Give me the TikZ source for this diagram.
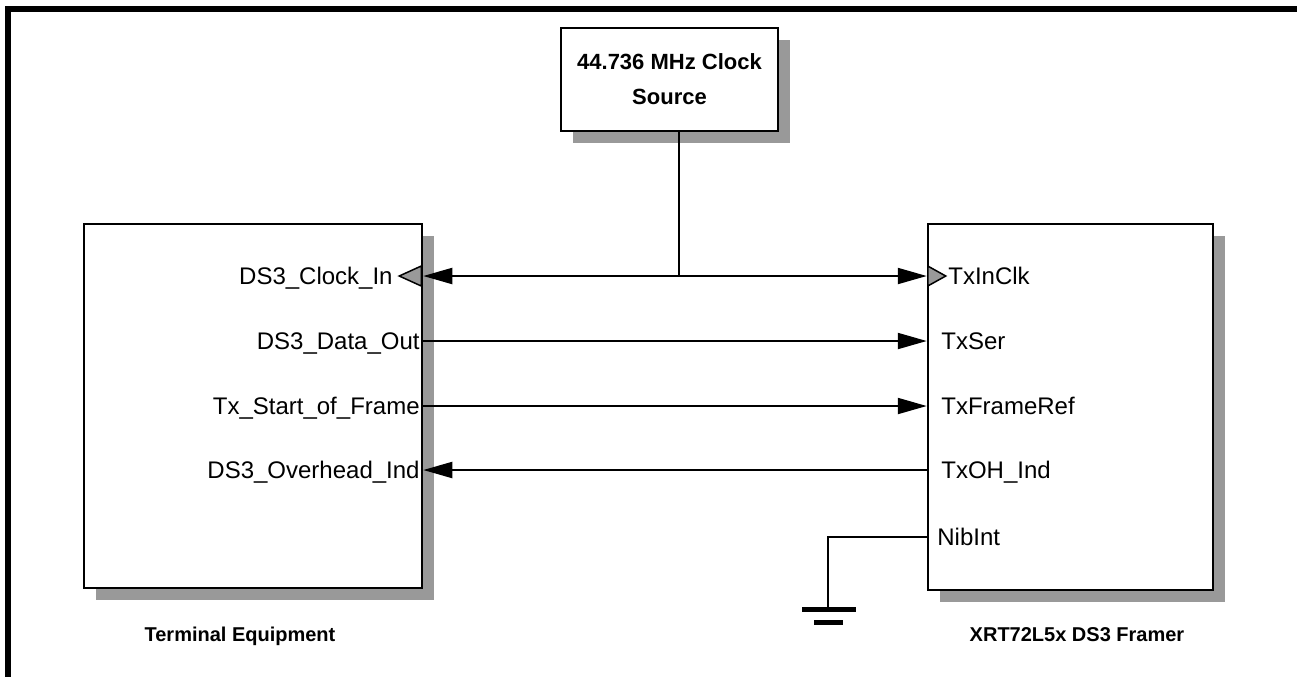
\documentclass[tikz,border=0pt]{standalone}
\usepackage{fontspec}
\setmainfont{Liberation Sans}
\usetikzlibrary{arrows.meta,shadows}
\tikzset{
  pix/.style={x=0.5pt,y=-0.5pt,>={Triangle[length=14.5pt,width=8pt]}},
  unit/.style={draw,line width=1.25pt,fill=white,inner sep=0pt,
    drop shadow={shadow xshift=6pt,shadow yshift=-6pt,fill=black!40,opacity=1}},
  pin/.style={font=\fontsize{12}{14}\selectfont,inner sep=0pt},
  caption/.style={font=\bfseries\fontsize{10}{12}\selectfont,inner sep=0pt},
  wire/.style={line width=1pt},
  clkin/.style={draw=black,fill=black!40,line width=0.75pt,line join=miter}
}

\begin{document}
\begin{tikzpicture}[pix]
  \useasboundingbox (0,0) rectangle (1297,677);
  \draw[line width=3pt] (1297,9) -- (8,9) -- (8,677);

  \node[unit,minimum width=108.5pt,minimum height=51.5pt,align=center,
    font=\bfseries\fontsize{11}{17.5}\selectfont] (clk) at (669.5,79.5) {44.736 MHz Clock\\Source};
  \node[unit,minimum width=169pt,minimum height=182pt] (term) at (253,406) {};
  \node[unit,minimum width=142.5pt,minimum height=183pt] (framer) at (1070.5,407) {};

  \coordinate (rclk) at (0,276);
  \coordinate (rdata) at (0,341);
  \coordinate (rsof) at (0,406);
  \coordinate (roh) at (0,470);
  \coordinate (rnib) at (0,537);
  \coordinate (tap) at (679,276);
  \coordinate (gnd) at (828,609);

  \draw[wire,<->] (term.east |- rclk) -- (framer.west |- rclk);
  \draw[wire] (tap) -- (tap |- clk.south);
  \draw[wire,->] (term.east |- rdata) -- (framer.west |- rdata);
  \draw[wire,->] (term.east |- rsof) -- (framer.west |- rsof);
  \draw[wire,->] (framer.west |- roh) -- (term.east |- roh);
  \draw[wire] (framer.west |- rnib) -| (gnd);
  \draw[line width=2.5pt] (gnd) ++(-26,0) -- ++(54,0);
  \draw[line width=2.5pt] (gnd) ++(-14,13) -- ++(29,0);

  \draw[clkin] (term.east |- rclk) ++(-2,-10) -- ++(0,20) -- ++(-22,-10) -- cycle;
  \draw[clkin] (framer.west |- rclk) ++(1,-10) -- ++(0,20) -- ++(18,-10) -- cycle;

  \node[pin,anchor=base east] (lclk) at (393,284.5) {DS3\_Clock\_In};
  \node[pin,anchor=base east] (ldata) at (420,349.5) {DS3\_Data\_Out};
  \node[pin,anchor=base east] (lsof) at (420,414.5) {Tx\_Start\_of\_Frame};
  \node[pin,anchor=base east] (loh) at (420,478.5) {DS3\_Overhead\_Ind};

  \node[pin,anchor=base west] (pclk) at (948,284.5) {TxInClk};
  \node[pin,anchor=base west] (pser) at (941,349.5) {TxSer};
  \node[pin,anchor=base west] (pref) at (941,414.5) {TxFrameRef};
  \node[pin,anchor=base west] (poh) at (941,478.5) {TxOH\_Ind};
  \node[pin,anchor=base west] (pnib) at (937,545.5) {NibInt};

  \node[caption,anchor=base] (termcap) at (240,641) {Terminal Equipment};
  \node[caption,anchor=base] (framercap) at (1077,641) {XRT72L5x DS3 Framer};
\end{tikzpicture}
\end{document}
